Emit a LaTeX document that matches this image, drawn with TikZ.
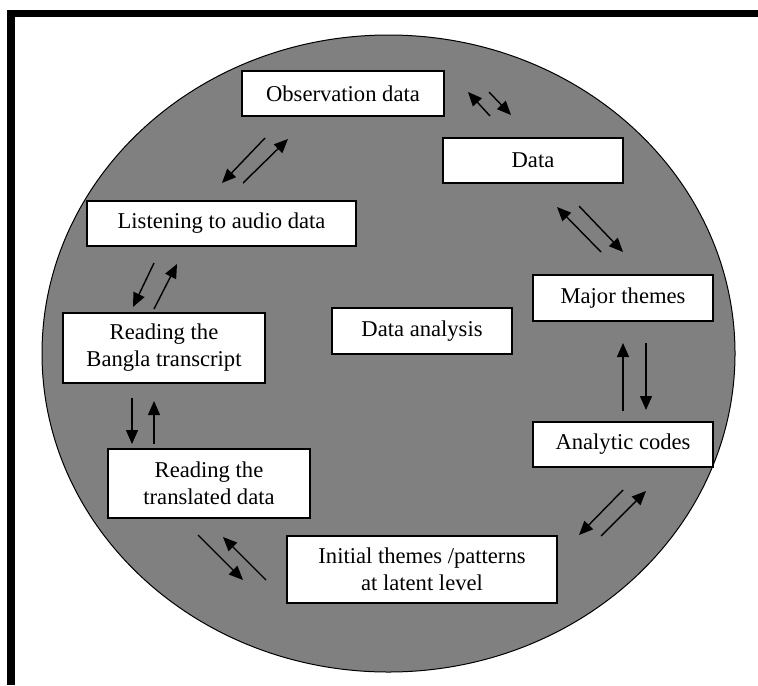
\documentclass[tikz,border=0pt]{standalone}
\usepackage{fontspec}
\setmainfont{Liberation Serif}
\usetikzlibrary{arrows.meta}
\definecolor{discgray}{RGB}{128,128,128}

\begin{document}
\begin{tikzpicture}[x=0.5pt, y=-0.5pt, font=\fontsize{11.3}{13.5}\selectfont,
	box/.style={draw, line width=1pt, fill=white, rectangle, inner sep=2pt, align=center},
	flow/.style={-{Triangle[length=7pt, width=6pt]}, line width=0.7pt}]

	\useasboundingbox (0,0) rectangle (758,685);

	% Frame and disc
	\draw[line width=3.8pt] (11,685) -- (11,13.5) -- (758,13.5);
	\draw[fill=discgray, line width=0.5pt] (388.5,353.5) ellipse [x radius=173.25pt, y radius=159.25pt];

	% Nodes
	\node[box, minimum width=101pt, minimum height=22.5pt] (obs) at (343,93.5) {Observation data};
	\node[box, minimum width=90pt, minimum height=22.5pt] (data) at (533,160.5) {Data};
	\node[box, minimum width=90pt, minimum height=23pt] (major) at (623,298) {Major themes};
	\node[box, minimum width=90pt, minimum height=22.5pt] (codes) at (623,444.5) {Analytic codes};
	\node[box, minimum width=90pt, minimum height=23pt] (analysis) at (422,331) {Data analysis};
	\node[box, minimum width=134.5pt, minimum height=22.5pt] (listen) at (221.5,223.5) {Listening to audio data};
	\node[box, minimum width=101pt, minimum height=35pt] (bangla) at (164,348) {Reading the\\Bangla transcript};
	\node[box, minimum width=101pt, minimum height=34.5pt] (transl) at (209,483.5) {Reading the\\translated data};
	\node[box, minimum width=135pt, minimum height=33.5pt] (initial) at (422,569.5) {Initial themes /patterns\\at latent level};

	% Arrow ends
	\coordinate (od1) at (490,116); \coordinate (od2) at (468,92);
	\coordinate (od3) at (489,92);  \coordinate (od4) at (511,115);
	\coordinate (dm1) at (601,252); \coordinate (dm2) at (557,207);
	\coordinate (dm3) at (579,206); \coordinate (dm4) at (623,252);
	\coordinate (mc1) at (623,411); \coordinate (mc2) at (623,343);
	\coordinate (mc3) at (646,343); \coordinate (mc4) at (646,410);
	\coordinate (ci1) at (623,490); \coordinate (ci2) at (579,535);
	\coordinate (ci3) at (601,536); \coordinate (ci4) at (646,491);
	\coordinate (it1) at (198,535); \coordinate (it2) at (243,580);
	\coordinate (it3) at (266,580); \coordinate (it4) at (223,537);
	\coordinate (tb1) at (132,398); \coordinate (tb2) at (132,444);
	\coordinate (tb3) at (154,444); \coordinate (tb4) at (154,401);
	\coordinate (bl1) at (154,263); \coordinate (bl2) at (133,307);
	\coordinate (bl3) at (154,309); \coordinate (bl4) at (177,264);
	\coordinate (lo1) at (265,138); \coordinate (lo2) at (222,183);
	\coordinate (lo3) at (243,183); \coordinate (lo4) at (288,139);

	% Arrows
	\draw[flow] (od1) -- (od2);
	\draw[flow] (od3) -- (od4);
	\draw[flow] (dm1) -- (dm2);
	\draw[flow] (dm3) -- (dm4);
	\draw[flow] (mc1) -- (mc2);
	\draw[flow] (mc3) -- (mc4);
	\draw[flow] (ci1) -- (ci2);
	\draw[flow] (ci3) -- (ci4);
	\draw[flow] (it1) -- (it2);
	\draw[flow] (it3) -- (it4);
	\draw[flow] (tb1) -- (tb2);
	\draw[flow] (tb3) -- (tb4);
	\draw[flow] (bl1) -- (bl2);
	\draw[flow] (bl3) -- (bl4);
	\draw[flow] (lo1) -- (lo2);
	\draw[flow] (lo3) -- (lo4);

\end{tikzpicture}
\end{document}
